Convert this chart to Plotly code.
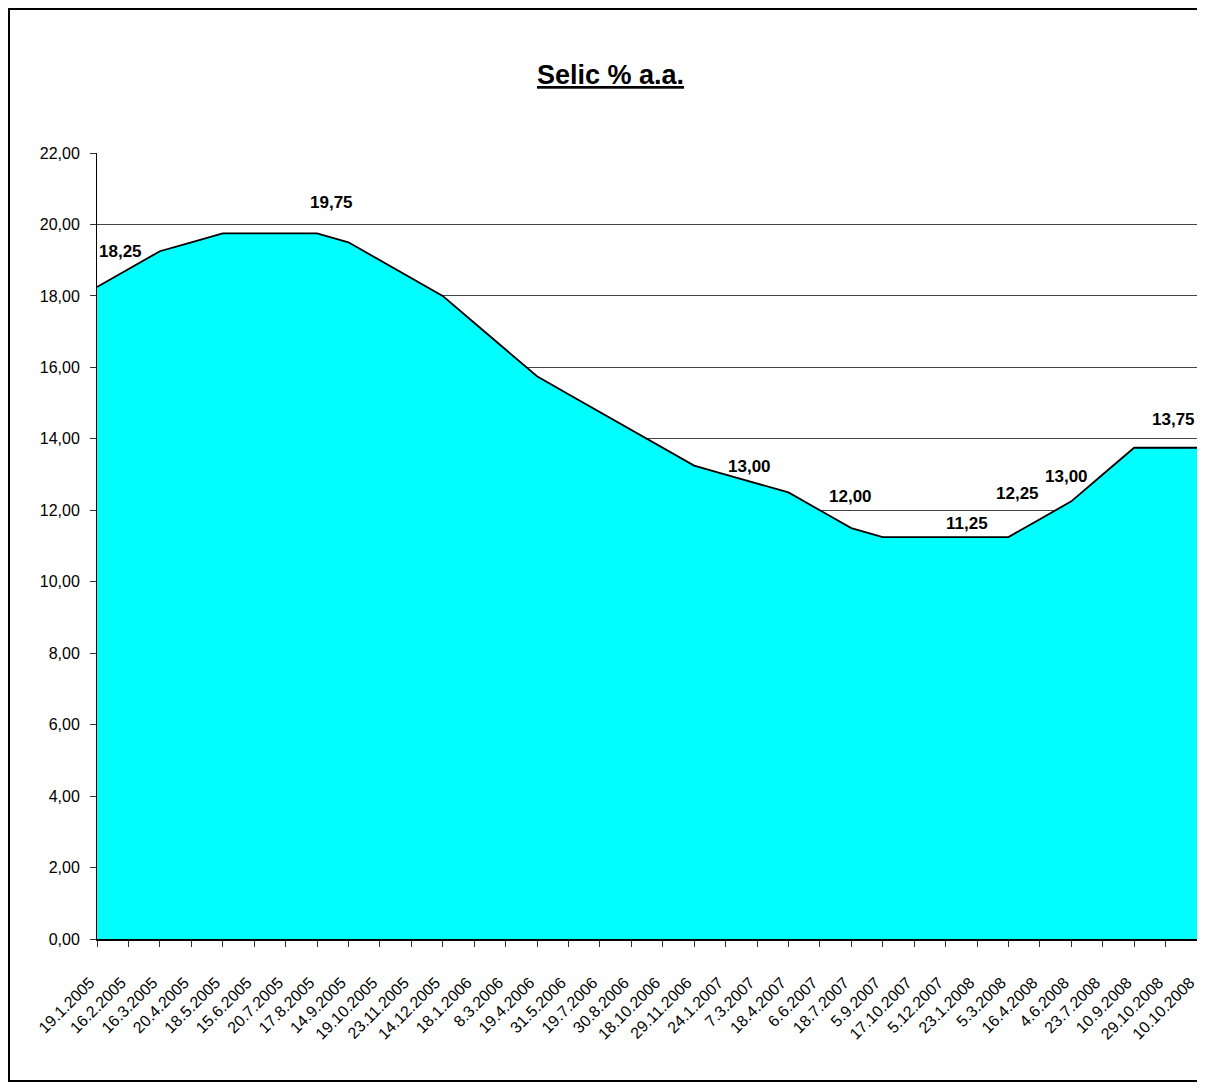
import plotly.graph_objects as go

# Datas das reuniões do Copom e taxa Selic (% a.a.)
datas = [
    "19.1.2005", "16.2.2005", "16.3.2005", "20.4.2005", "18.5.2005", "15.6.2005",
    "20.7.2005", "17.8.2005", "14.9.2005", "19.10.2005", "23.11.2005", "14.12.2005",
    "18.1.2006", "8.3.2006", "19.4.2006", "31.5.2006", "19.7.2006", "30.8.2006",
    "18.10.2006", "29.11.2006", "24.1.2007", "7.3.2007", "18.4.2007", "6.6.2007",
    "18.7.2007", "5.9.2007", "17.10.2007", "5.12.2007", "23.1.2008", "5.3.2008",
    "16.4.2008", "4.6.2008", "23.7.2008", "10.9.2008", "29.10.2008", "10.10.2008",
]
selic = [
    18.25, 18.75, 19.25, 19.50, 19.75, 19.75,
    19.75, 19.75, 19.50, 19.00, 18.50, 18.00,
    17.25, 16.50, 15.75, 15.25, 14.75, 14.25,
    13.75, 13.25, 13.00, 12.75, 12.50, 12.00,
    11.50, 11.25, 11.25, 11.25, 11.25, 11.25,
    11.75, 12.25, 13.00, 13.75, 13.75, 13.75,
]
# pontos com rótulo de valor
pontos_rotulo = [0, 7, 20, 23, 27, 31, 32, 34]
y_ticks = [0, 2, 4, 6, 8, 10, 12, 14, 16, 18, 20, 22]

# deslocamento (px) de cada rótulo em relação ao ponto
desloc_rotulo = [(23, 35), (14, 31), (24, 8), (31, 14), (21, 14), (-54, 8), (-36, -2), (8, 28)]

FONTE = "Liberation Sans, Arial, sans-serif"

fig = go.Figure()
fig.add_trace(go.Scatter(
    x=datas, y=selic,
    mode="lines",
    fill="tozeroy",
    fillcolor="#00FFFF",
    line=dict(color="black", width=1.8),
    showlegend=False,
))

def fmt(v):
    return f"{v:.2f}".replace(".", ",")

annotations = []
for idx, (dx, dy) in zip(pontos_rotulo, desloc_rotulo):
    annotations.append(dict(
        x=datas[idx], y=selic[idx], xref="x", yref="y",
        text=f"<b>{fmt(selic[idx])}</b>",
        showarrow=False, xshift=dx, yshift=dy,
        font=dict(family=FONTE, size=17, color="black"),
    ))

annotations.append(dict(
    text="<b><u>Selic % a.a.</u></b>",
    x=0.467, y=1.099, xref="paper", yref="paper",
    xanchor="center", yanchor="middle", showarrow=False,
    font=dict(family=FONTE, size=27, color="black"),
))

fig.update_layout(
    width=1189, height=1074,
    margin=dict(l=89, r=0, t=145, b=143),
    paper_bgcolor="white", plot_bgcolor="white",
    separators=",.",
    font=dict(family=FONTE, size=16, color="black"),
    annotations=annotations,
    shapes=[dict(
        type="rect", xref="paper", yref="paper",
        x0=-0.0800, x1=1.2, y0=-0.1807, y1=1.1832,
        line=dict(color="black", width=2), layer="below",
    )],
)

fig.update_xaxes(
    type="category", range=[0, len(datas) - 1], automargin=False,
    tickangle=-45, ticks="outside", ticklen=6, tickcolor="#333333",
    showline=True, linecolor="black", linewidth=2,
    showgrid=False, tickfont=dict(size=16),
    ticklabelstandoff=20, ticklabelshift=-7,
)
fig.update_yaxes(
    range=[0, 22], tickvals=y_ticks, tickformat=".2f", automargin=False,
    ticks="outside", ticklen=6, tickcolor="#333333",
    showline=True, linecolor="black", linewidth=1,
    showgrid=True, gridcolor="#444444", gridwidth=1,
    zeroline=False, tickfont=dict(size=16), ticklabelstandoff=7,
)

fig.write_html("out.html")
